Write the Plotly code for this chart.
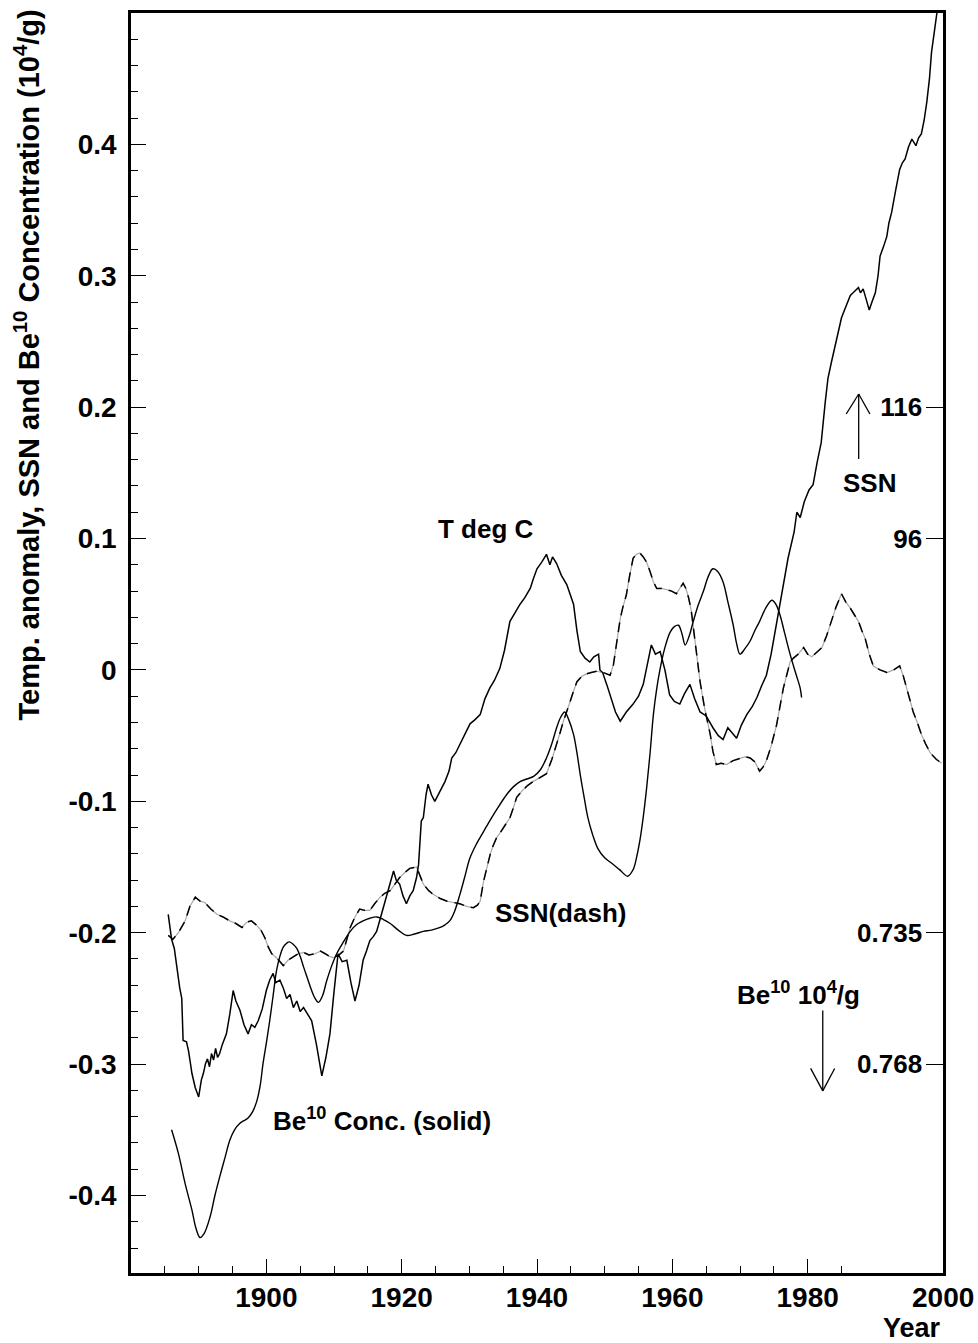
import plotly.graph_objects as go

# ---------------- data ----------------
temp_year = [1885.5, 1886.0, 1886.4, 1886.8, 1887.2, 1887.5, 1887.7, 1888.2, 1888.5, 1888.8,
             1889.0, 1889.5, 1890.0, 1890.4, 1890.7, 1891.0, 1891.3, 1891.6, 1891.9, 1892.2,
             1892.5, 1892.8, 1893.1, 1893.5, 1894.1, 1894.6, 1895.1, 1895.5, 1896.1, 1896.7,
             1897.3, 1897.8, 1898.3, 1898.8, 1899.4, 1900.0, 1900.5, 1901.0, 1901.4, 1902.0,
             1902.5, 1903.0, 1903.5, 1904.0, 1904.5, 1905.0, 1905.5, 1906.1, 1906.7, 1907.4,
             1908.2, 1908.8, 1909.4, 1910.0, 1910.6, 1911.2, 1911.9, 1912.5, 1913.1, 1913.7,
             1914.3, 1914.8, 1915.3, 1915.8, 1916.3, 1916.8, 1917.3, 1918.0, 1918.8, 1919.2,
             1919.7, 1920.2, 1920.7, 1921.2, 1921.7, 1922.2, 1922.5, 1922.9, 1923.2, 1923.6,
             1923.9, 1924.4, 1924.9, 1925.6, 1926.4, 1927.0, 1927.4, 1928.0, 1928.6, 1929.3,
             1930.1, 1930.8, 1931.6, 1932.3, 1933.0, 1933.7, 1934.5, 1935.2, 1936.0, 1936.7,
             1937.5, 1938.2, 1939.0, 1939.5, 1940.0, 1940.7, 1941.4, 1941.9, 1942.3, 1942.9,
             1943.6, 1944.4, 1944.9, 1945.4, 1945.9, 1946.4, 1947.1, 1947.8, 1948.4, 1949.1,
             1949.3, 1949.7, 1950.3, 1951.0, 1951.6, 1952.3, 1953.2, 1954.2, 1955.0, 1955.7,
             1956.3, 1956.9, 1957.5, 1958.2, 1958.9, 1959.6, 1960.3, 1961.1, 1961.8, 1962.6,
             1963.3, 1964.1, 1965.0, 1966.0, 1966.8, 1967.5, 1968.2, 1968.8, 1969.5, 1970.2,
             1971.0, 1971.8, 1972.5, 1973.2, 1973.9, 1974.6, 1975.4, 1976.2, 1977.1, 1978.0,
             1978.4, 1978.9, 1979.5, 1980.2, 1980.8, 1981.4, 1982.0, 1982.6, 1983.0, 1983.5,
             1984.0, 1984.5, 1985.0, 1985.3, 1985.8, 1986.3, 1986.9, 1987.5, 1987.8, 1988.2,
             1988.6, 1989.1, 1989.5, 1990.0, 1990.4, 1990.7, 1991.2, 1991.7, 1992.0, 1992.4,
             1993.0, 1993.6, 1994.0, 1994.4, 1994.9, 1995.4, 1996.0, 1996.4, 1996.8, 1997.2,
             1997.6, 1998.0, 1998.3, 1998.7, 1999.1, 1999.3]
temp_value = [-0.186, -0.205, -0.212, -0.228, -0.242, -0.250, -0.282, -0.283, -0.290, -0.300,
              -0.307, -0.318, -0.325, -0.312, -0.307, -0.300, -0.296, -0.302, -0.292, -0.297,
              -0.288, -0.295, -0.292, -0.285, -0.277, -0.262, -0.244, -0.252, -0.259, -0.270,
              -0.277, -0.270, -0.272, -0.267, -0.258, -0.244, -0.236, -0.231, -0.238, -0.236,
              -0.242, -0.250, -0.247, -0.257, -0.252, -0.260, -0.257, -0.262, -0.267, -0.285,
              -0.309, -0.295, -0.277, -0.245, -0.216, -0.222, -0.221, -0.238, -0.252, -0.240,
              -0.221, -0.214, -0.206, -0.203, -0.199, -0.190, -0.181, -0.168, -0.153, -0.160,
              -0.163, -0.172, -0.178, -0.172, -0.168, -0.158, -0.148, -0.115, -0.1125, -0.095,
              -0.087, -0.095, -0.100, -0.093, -0.085, -0.077, -0.067, -0.063, -0.057, -0.050,
              -0.041, -0.038, -0.034, -0.022, -0.014, -0.008, 0.001, 0.015, 0.037, 0.043,
              0.050, 0.055, 0.062, 0.070, 0.077, 0.082, 0.088, 0.080, 0.086, 0.081,
              0.072, 0.065, 0.058, 0.050, 0.030, 0.014, 0.009, 0.006, 0.010, 0.012,
              0.000, -0.002, -0.011, -0.022, -0.032, -0.039, -0.032, -0.026, -0.020, -0.011,
              0.005, 0.019, 0.012, 0.014, 0.000, -0.019, -0.024, -0.026, -0.018, -0.011,
              -0.022, -0.032, -0.035, -0.044, -0.050, -0.053, -0.044, -0.048, -0.052, -0.042,
              -0.034, -0.028, -0.021, -0.012, -0.004, 0.012, 0.035, 0.060, 0.085, 0.105,
              0.120, 0.116, 0.128, 0.137, 0.141, 0.158, 0.173, 0.204, 0.222, 0.234,
              0.245, 0.255, 0.268, 0.272, 0.278, 0.285, 0.288, 0.291, 0.287, 0.290,
              0.283, 0.274, 0.280, 0.287, 0.300, 0.315, 0.322, 0.330, 0.340, 0.348,
              0.365, 0.381, 0.386, 0.389, 0.398, 0.404, 0.399, 0.405, 0.408, 0.418,
              0.432, 0.450, 0.470, 0.485, 0.500, 0.515]

ssn_year = [1885.5, 1886.2, 1887.0, 1888.0, 1888.7, 1889.5, 1890.2, 1890.9, 1891.8, 1892.7,
            1893.6, 1894.6, 1895.5, 1896.4, 1897.1, 1897.8, 1898.5, 1899.2, 1899.8, 1900.3,
            1900.8, 1901.5, 1902.0, 1902.5, 1903.2, 1904.0, 1904.7, 1905.5, 1906.3, 1907.2,
            1908.0, 1908.7, 1909.3, 1909.9, 1910.7, 1911.4, 1911.9, 1912.4, 1913.1, 1913.8,
            1914.5, 1915.3, 1916.0, 1916.8, 1917.5, 1918.3, 1919.0, 1919.7, 1920.5, 1921.2,
            1922.2, 1922.7, 1923.2, 1924.0, 1924.7, 1925.7, 1926.7, 1927.7, 1928.6, 1929.6,
            1930.6, 1931.2, 1931.6, 1932.1, 1932.6, 1933.1, 1933.5, 1934.0, 1934.8, 1935.5,
            1936.0, 1936.5, 1937.0, 1937.8, 1938.6, 1939.4, 1940.4, 1941.4, 1942.2, 1942.9,
            1943.4, 1943.9, 1944.4, 1944.9, 1945.4, 1945.9, 1946.6, 1947.3, 1948.0, 1948.8,
            1949.8, 1950.8, 1951.3, 1951.8, 1952.3, 1952.7, 1953.2, 1953.7, 1954.2, 1954.7,
            1955.2, 1955.7, 1956.2, 1956.7, 1957.2, 1957.7, 1958.4, 1959.2, 1959.9, 1960.6,
            1961.1, 1961.6, 1962.0, 1962.4, 1962.8, 1963.1, 1963.6, 1964.1, 1964.8, 1965.6,
            1966.0, 1966.5, 1967.2, 1968.0, 1969.0, 1970.0, 1970.8, 1971.5, 1972.2, 1972.9,
            1973.4, 1973.9, 1974.6, 1975.4, 1975.9, 1976.4, 1976.9, 1977.4, 1977.9, 1978.6,
            1979.4, 1980.0, 1980.6, 1981.3, 1982.1, 1982.8, 1983.5, 1984.2, 1985.0, 1985.6,
            1986.3, 1986.8, 1987.5, 1988.0, 1988.5, 1989.1, 1989.7, 1990.7, 1991.7, 1992.7,
            1993.6, 1994.1, 1994.6, 1995.1, 1995.6, 1996.2, 1996.8, 1997.4, 1998.1, 1999.0,
            1999.8]
ssn_value = [-0.202, -0.205, -0.200, -0.191, -0.180, -0.173, -0.176, -0.177, -0.182, -0.186,
             -0.188, -0.191, -0.193, -0.196, -0.192, -0.191, -0.194, -0.198, -0.204, -0.211,
             -0.216, -0.219, -0.222, -0.225, -0.221, -0.218, -0.216, -0.215, -0.217, -0.216,
             -0.214, -0.216, -0.218, -0.219, -0.217, -0.214, -0.205, -0.196, -0.188, -0.182,
             -0.183, -0.183, -0.178, -0.173, -0.170, -0.168, -0.163, -0.158, -0.154, -0.151,
             -0.150, -0.157, -0.163, -0.168, -0.171, -0.174, -0.176, -0.177, -0.178, -0.180,
             -0.181, -0.179, -0.176, -0.161, -0.150, -0.140, -0.134, -0.128, -0.122, -0.117,
             -0.1125, -0.105, -0.097, -0.092, -0.088, -0.085, -0.082, -0.079, -0.068, -0.057,
             -0.048, -0.039, -0.032, -0.024, -0.016, -0.009, -0.005, -0.003, -0.002, -0.001,
             -0.002, -0.004, 0.004, 0.020, 0.039, 0.048, 0.057, 0.072, 0.085, 0.088,
             0.089, 0.086, 0.082, 0.075, 0.067, 0.062, 0.062, 0.061, 0.060, 0.058,
             0.062, 0.066, 0.062, 0.055, 0.045, 0.032, 0.012, -0.009, -0.030, -0.049,
             -0.062, -0.072, -0.071, -0.072, -0.069, -0.067, -0.066, -0.067, -0.070, -0.077,
             -0.074, -0.069, -0.058, -0.042, -0.028, -0.014, -0.004, 0.006, 0.009, 0.012,
             0.017, 0.012, 0.010, 0.013, 0.017, 0.026, 0.037, 0.048, 0.058, 0.052,
             0.047, 0.043, 0.037, 0.030, 0.024, 0.012, 0.003, 0.000, -0.002, 0.000,
             0.003, -0.004, -0.014, -0.023, -0.032, -0.040, -0.049, -0.056, -0.063, -0.068,
             -0.071]

be_year = [1886.0, 1887.0, 1888.0, 1889.0, 1889.6, 1890.2, 1890.8, 1891.7, 1892.4, 1893.1,
           1893.9, 1894.6, 1895.3, 1896.1, 1896.7, 1897.3, 1898.0, 1898.6, 1899.1, 1899.5,
           1900.0, 1900.5, 1901.0, 1901.5, 1902.0, 1902.5, 1903.0, 1903.4, 1904.0, 1904.5,
           1905.0, 1905.5, 1906.1, 1906.7, 1907.2, 1907.7, 1908.3, 1908.9, 1909.6, 1910.4,
           1911.4, 1912.4, 1913.3, 1914.3, 1915.3, 1916.3, 1917.3, 1918.3, 1919.5, 1920.7,
           1921.9, 1923.2, 1924.4, 1925.7, 1926.4, 1927.1, 1927.8, 1928.6, 1929.3, 1930.1,
           1931.1, 1932.1, 1933.0, 1934.2, 1935.5, 1936.5, 1937.5, 1938.5, 1939.5, 1940.5,
           1941.4, 1942.2, 1942.9, 1943.5, 1944.1, 1944.7, 1945.4, 1945.9, 1946.4, 1947.0,
           1947.5, 1948.2, 1949.0, 1950.0, 1951.0, 1952.2, 1953.4, 1954.2, 1954.7, 1955.2,
           1955.7, 1956.2, 1956.7, 1957.2, 1957.7, 1958.2, 1958.9, 1959.7, 1960.3, 1960.9,
           1961.4, 1961.9, 1962.5, 1963.1, 1963.8, 1964.6, 1965.3, 1966.0, 1966.7, 1967.5,
           1968.2, 1969.0, 1969.5, 1970.0, 1970.7, 1971.5, 1972.2, 1972.9, 1973.8, 1974.7,
           1975.3, 1975.9, 1976.6, 1977.4, 1978.2, 1978.9, 1979.1]
be_value = [-0.350, -0.368, -0.391, -0.411, -0.425, -0.432, -0.429, -0.416, -0.400, -0.386,
            -0.371, -0.358, -0.350, -0.345, -0.343, -0.341, -0.336, -0.328, -0.316, -0.300,
            -0.284, -0.267, -0.248, -0.229, -0.218, -0.211, -0.208, -0.207, -0.209, -0.212,
            -0.218, -0.226, -0.235, -0.244, -0.250, -0.253, -0.248, -0.237, -0.226, -0.216,
            -0.207, -0.199, -0.194, -0.191, -0.189, -0.188, -0.190, -0.193, -0.198, -0.202,
            -0.201, -0.199, -0.198, -0.196, -0.194, -0.191, -0.184, -0.171, -0.158, -0.143,
            -0.132, -0.123, -0.115, -0.105, -0.095, -0.089, -0.085, -0.083, -0.081, -0.076,
            -0.067, -0.056, -0.044, -0.036, -0.032, -0.038, -0.049, -0.063, -0.080, -0.098,
            -0.112, -0.125, -0.136, -0.143, -0.147, -0.152, -0.157, -0.152, -0.143, -0.130,
            -0.112, -0.090, -0.064, -0.034, -0.014, 0.001, 0.017, 0.029, 0.033, 0.034,
            0.028, 0.019, 0.026, 0.037, 0.049, 0.060, 0.071, 0.077, 0.075, 0.067,
            0.052, 0.034, 0.020, 0.012, 0.016, 0.022, 0.030, 0.037, 0.047, 0.053,
            0.050, 0.042, 0.028, 0.012, -0.002, -0.014, -0.021]

x_tickvals = [1900, 1920, 1940, 1960, 1980, 2000]
x_ticktext = ["1900", "1920", "1940", "1960", "1980", "2000"]
y_tickvals = [0.4, 0.3, 0.2, 0.1, 0.0, -0.1, -0.2, -0.3, -0.4]
y_ticktext = ["0.4", "0.3", "0.2", "0.1", "0", "-0.1", "-0.2", "-0.3", "-0.4"]
right_tickvals = [0.2, 0.1, -0.2, -0.3]
right_ticktext = ["116", "96", "0.735", "0.768"]

# ---------------- figure ----------------
FONT = "Liberation Sans, Arial, Helvetica, sans-serif"
fig = go.Figure()

fig.add_trace(go.Scatter(x=ssn_year, y=ssn_value, mode="lines",
                         line=dict(color="#a8a8a8", width=1.2), hoverinfo="skip",
                         showlegend=False))
fig.add_trace(go.Scatter(x=ssn_year, y=ssn_value, mode="lines", name="SSN",
                         line=dict(color="black", width=1.5, dash="10px,7px"),
                         showlegend=False))
fig.add_trace(go.Scatter(x=temp_year, y=temp_value, mode="lines", name="T deg C",
                         line=dict(color="black", width=1.5), showlegend=False))
fig.add_trace(go.Scatter(x=be_year, y=be_value, mode="lines", name="Be10",
                         line=dict(color="black", width=1.4, shape="spline"),
                         showlegend=False))
# invisible trace to activate the right axis
fig.add_trace(go.Scatter(x=[1880], y=[0], yaxis="y2", mode="markers",
                         marker=dict(opacity=0), hoverinfo="skip", showlegend=False))

tickfont = dict(family=FONT, size=28, color="black", weight="bold")

# the last x tick label sits on the frame corner; Plotly drops it, so it is
# drawn as an annotation at the same place (tick mark still from the axis)
x_axis_text = [t if v != 2000 else "" for v, t in zip(x_tickvals, x_ticktext)]

fig.update_layout(
    width=978, height=1343,
    margin=dict(l=131, r=35, t=10, b=70),
    plot_bgcolor="white", paper_bgcolor="white",
    xaxis=dict(range=[1880, 2000], tickvals=x_tickvals, ticktext=x_axis_text,
               ticks="inside", ticklen=14, tickwidth=1.3, tickcolor="black",
               minor=dict(tick0=1880, dtick=5, ticks="inside", ticklen=7,
                          tickwidth=1.3, tickcolor="black"),
               showline=True, linewidth=2.5, linecolor="black", mirror=True,
               showgrid=False, zeroline=False, tickfont=tickfont,
               ticklabelstandoff=-2, ticklabeloverflow="allow"),
    yaxis=dict(range=[-0.459, 0.5], tickvals=y_tickvals, ticktext=y_ticktext,
               ticks="inside", ticklen=15, tickwidth=1.3, tickcolor="black",
               minor=dict(tick0=0, dtick=0.02, ticks="inside", ticklen=7,
                          tickwidth=1.3, tickcolor="black"),
               showline=True, linewidth=2.5, linecolor="black", mirror=True,
               showgrid=False, zeroline=False, tickfont=tickfont,
               ticklabelstandoff=6, ticklabeloverflow="allow"),
    yaxis2=dict(range=[-0.459, 0.5], overlaying="y", side="right",
                tickvals=right_tickvals, ticktext=right_ticktext,
                ticks="inside", ticklen=17, tickwidth=1.3, tickcolor="black",
                ticklabelposition="inside", ticklabelstandoff=6,
                showline=False, showgrid=False, zeroline=False,
                tickfont=dict(family=FONT, size=26, color="black", weight="bold")),
)

def txt(s, x, y, size=26, xanchor="center", yanchor="middle", xref="x", yref="y", angle=0):
    fig.add_annotation(text=s, x=x, y=y, xref=xref, yref=yref, showarrow=False,
                       xanchor=xanchor, yanchor=yanchor, textangle=angle,
                       font=dict(family=FONT, size=size, color="black", weight="bold"))

txt(x_ticktext[-1], x_tickvals[-1], -0.0055, size=28, yanchor="top", yref="paper")
txt("T deg C", 1932.4, 0.107)
txt("SSN(dash)", 1943.4, -0.185)
txt("Be<sup>10</sup> Conc. (solid)", 1917.1, -0.342)
txt("SSN", 1989.1, 0.142)
txt("Be<sup>10</sup> 10<sup>4</sup>/g", 1978.6, -0.246)
txt("Year", 1.0, -0.044, size=27, xanchor="right", yanchor="middle", xref="paper", yref="paper")
txt("Temp. anomaly, SSN and Be<sup>10</sup> Concentration (10<sup>4</sup>/g)",
    -0.128, 1.004, size=29, xanchor="center", yanchor="top", xref="paper", yref="paper", angle=-90)

# arrows (decorations)
arrow_segments = [
    ((1987.54, 0.1606), (1987.54, 0.2100)),
    ((1985.70, 0.1948), (1987.54, 0.2100)),
    ((1989.20, 0.1948), (1987.54, 0.2100)),
    ((1982.23, -0.2593), (1982.23, -0.3204)),
    ((1980.44, -0.3033), (1982.23, -0.3204)),
    ((1983.99, -0.3033), (1982.23, -0.3204)),
]
for (x0, y0), (x1, y1) in arrow_segments:
    fig.add_shape(type="line", x0=x0, y0=y0, x1=x1, y1=y1, xref="x", yref="y",
                  line=dict(color="black", width=1.3))

fig.write_html("out.html", config={"displayModeBar": False},
               post_script="document.body.style.margin='0';document.body.style.overflow='hidden';")
